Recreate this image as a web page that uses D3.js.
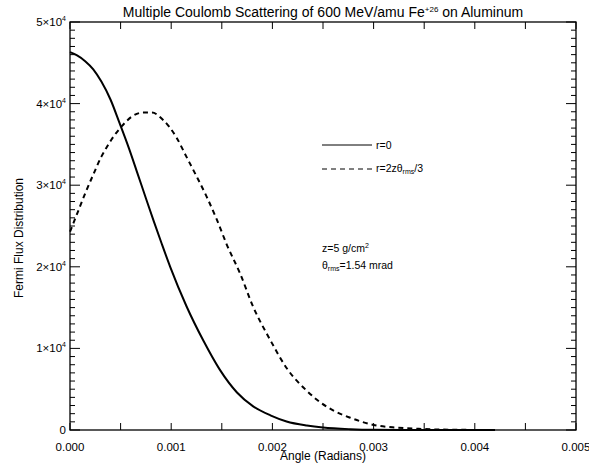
<!DOCTYPE html>
<html>
<head>
<meta charset="utf-8">
<script src="https://cdn.jsdelivr.net/npm/d3@7"></script>
<style>
  body { margin: 0; background: #fff; }
  svg text { font-family: 'Liberation Sans', Arial, sans-serif; fill: #000; }
</style>
</head>
<body>
<div id="chart"></div>
<script>
// Angle (radians) and flux, r = 0 curve
var angleR0 = [0, 0.00007, 0.00015, 0.00023, 0.00031, 0.0004, 0.00049, 0.00058, 0.00066, 0.00075,
               0.00083, 0.00091, 0.00099, 0.00115, 0.00132, 0.00148, 0.00165, 0.00181, 0.00198,
               0.00214, 0.00234, 0.0025, 0.00277, 0.003, 0.0035, 0.0042];
var fluxR0 = [46300, 45900, 45200, 44200, 42700, 40500, 37600, 34600, 31700, 28400,
              25500, 22700, 20000, 15200, 10900, 7400, 4600, 2900, 1800,
              1050, 550, 300, 100, 30, 5, 0];

// r = 2z theta_rms / 3 curve
var angleR2 = [0, 0.00008, 0.00015, 0.00023, 0.00031, 0.00036, 0.00041, 0.00051, 0.00061, 0.00072,
               0.00081, 0.00092, 0.00105, 0.00115, 0.00125, 0.00135, 0.00145, 0.00155, 0.00168,
               0.00181, 0.00198, 0.00214, 0.00234, 0.00244, 0.0026, 0.00277, 0.003, 0.00323,
               0.00349, 0.0038, 0.0042];
var fluxR2 = [24300, 26800, 29000, 31300, 33500, 34600, 35600, 37200, 38400, 38900,
              38900, 38000, 35900, 33500, 31100, 28600, 25800, 22700, 19200,
              15100, 11000, 7600, 4800, 3700, 2400, 1500, 620, 290,
              120, 30, 0];

var xTicks = [0, 0.001, 0.002, 0.003, 0.004, 0.005];
var xTickLabels = ['0.000', '0.001', '0.002', '0.003', '0.004', '0.005'];
var yTicks = [0, 10000, 20000, 30000, 40000, 50000];
var yTickMant = ['0', '1', '2', '3', '4', '5'];

var width = 589, height = 465;
var margin = { left: 70, right: 13, top: 22, bottom: 35 };

var svg = d3.select('#chart').append('svg')
    .attr('width', width)
    .attr('height', height);

var x = d3.scaleLinear().domain([0, 0.005]).range([margin.left, width - margin.right]);
var y = d3.scaleLinear().domain([0, 50000]).range([height - margin.bottom, margin.top]);

var x0 = x.range()[0], x1 = x.range()[1];
var y0 = y.range()[0], y1 = y.range()[1];

// frame
svg.append('rect')
    .attr('x', x0).attr('y', y1)
    .attr('width', x1 - x0).attr('height', y0 - y1)
    .attr('fill', 'none').attr('stroke', '#000').attr('stroke-width', 1.3);

// x ticks (every 0.0005), bottom and top
var xt = d3.range(0, 0.00501, 0.0005);
var tickG = svg.append('g').attr('stroke', '#000').attr('stroke-width', 1);
xt.forEach(function(v) {
    tickG.append('line').attr('x1', x(v)).attr('x2', x(v)).attr('y1', y0).attr('y2', y0 - 7);
    tickG.append('line').attr('x1', x(v)).attr('x2', x(v)).attr('y1', y1).attr('y2', y1 + 7);
});

// y ticks: major every 10000, minor every 1000, left and right
d3.range(0, 50001, 1000).forEach(function(v) {
    var len = (v % 10000 === 0) ? 10 : 5;
    tickG.append('line').attr('x1', x0).attr('x2', x0 + len).attr('y1', y(v)).attr('y2', y(v));
    tickG.append('line').attr('x1', x1).attr('x2', x1 - len).attr('y1', y(v)).attr('y2', y(v));
});

// x tick labels
svg.append('g').selectAll('text')
    .data(xTicks)
    .enter().append('text')
    .attr('x', function(d) { return x(d); })
    .attr('y', y0 + 21)
    .attr('text-anchor', 'middle')
    .attr('font-size', 11.5)
    .text(function(d, i) { return xTickLabels[i]; });

// y tick labels
var yl = svg.append('g').selectAll('text')
    .data(yTicks)
    .enter().append('text')
    .attr('x', x0 - 4)
    .attr('y', function(d) { return y(d) + 4; })
    .attr('text-anchor', 'end')
    .attr('font-size', 11.5);
yl.each(function(d, i) {
    var t = d3.select(this);
    if (d === 0) { t.text('0'); return; }
    t.append('tspan').text(yTickMant[i] + '\u00d710');
    t.append('tspan').attr('font-size', 7).attr('dy', -5).text('4');
});

// axis titles
svg.append('text')
    .attr('x', (x0 + x1) / 2)
    .attr('y', height - 5)
    .attr('text-anchor', 'middle')
    .attr('font-size', 12)
    .text('Angle (Radians)');

svg.append('text')
    .attr('transform', 'translate(23,' + ((y0 + y1) / 2 + 12) + ') rotate(-90)')
    .attr('text-anchor', 'middle')
    .attr('font-size', 12)
    .text('Fermi Flux Distribution');

// title
var title = svg.append('text')
    .attr('x', (x0 + x1) / 2)
    .attr('y', 17)
    .attr('text-anchor', 'middle')
    .attr('font-size', 14);
title.append('tspan').text('Multiple Coulomb Scattering of 600 MeV/amu Fe');
title.append('tspan').attr('font-size', 8).attr('dy', -5).text('+26');
title.append('tspan').attr('dy', 5).text(' on Aluminum');

// curves
var line = d3.line()
    .curve(d3.curveMonotoneX)
    .x(function(d) { return x(d[0]); })
    .y(function(d) { return y(d[1]); });

svg.append('path')
    .datum(d3.zip(angleR0, fluxR0))
    .attr('fill', 'none')
    .attr('stroke', '#000')
    .attr('stroke-width', 2)
    .attr('d', line);

svg.append('path')
    .datum(d3.zip(angleR2, fluxR2))
    .attr('fill', 'none')
    .attr('stroke', '#000')
    .attr('stroke-width', 2)
    .attr('stroke-dasharray', '5,4')
    .attr('d', line);

// legend
var lg = svg.append('g');
lg.append('line').attr('x1', 322).attr('x2', 372).attr('y1', 145).attr('y2', 145)
    .attr('stroke', '#000').attr('stroke-width', 1);
lg.append('text').attr('x', 376).attr('y', 149).attr('font-size', 10.5).text('r=0');

lg.append('line').attr('x1', 322).attr('x2', 372).attr('y1', 169).attr('y2', 169)
    .attr('stroke', '#000').attr('stroke-width', 1).attr('stroke-dasharray', '5,4');
var l2 = lg.append('text').attr('x', 376).attr('y', 172).attr('font-size', 10.5);
l2.append('tspan').text('r=2z\u03b8');
l2.append('tspan').attr('font-size', 7).attr('dy', 2).text('rms');
l2.append('tspan').attr('dy', -2).text('/3');

var n1 = svg.append('text').attr('x', 322).attr('y', 252).attr('font-size', 10.5);
n1.append('tspan').text('z=5  g/cm');
n1.append('tspan').attr('font-size', 7).attr('dy', -4).text('2');

var n2 = svg.append('text').attr('x', 322).attr('y', 269).attr('font-size', 10.5);
n2.append('tspan').text('\u03b8');
n2.append('tspan').attr('font-size', 7).attr('dy', 2).text('rms');
n2.append('tspan').attr('dy', -2).text('=1.54  mrad');
</script>
</body>
</html>
